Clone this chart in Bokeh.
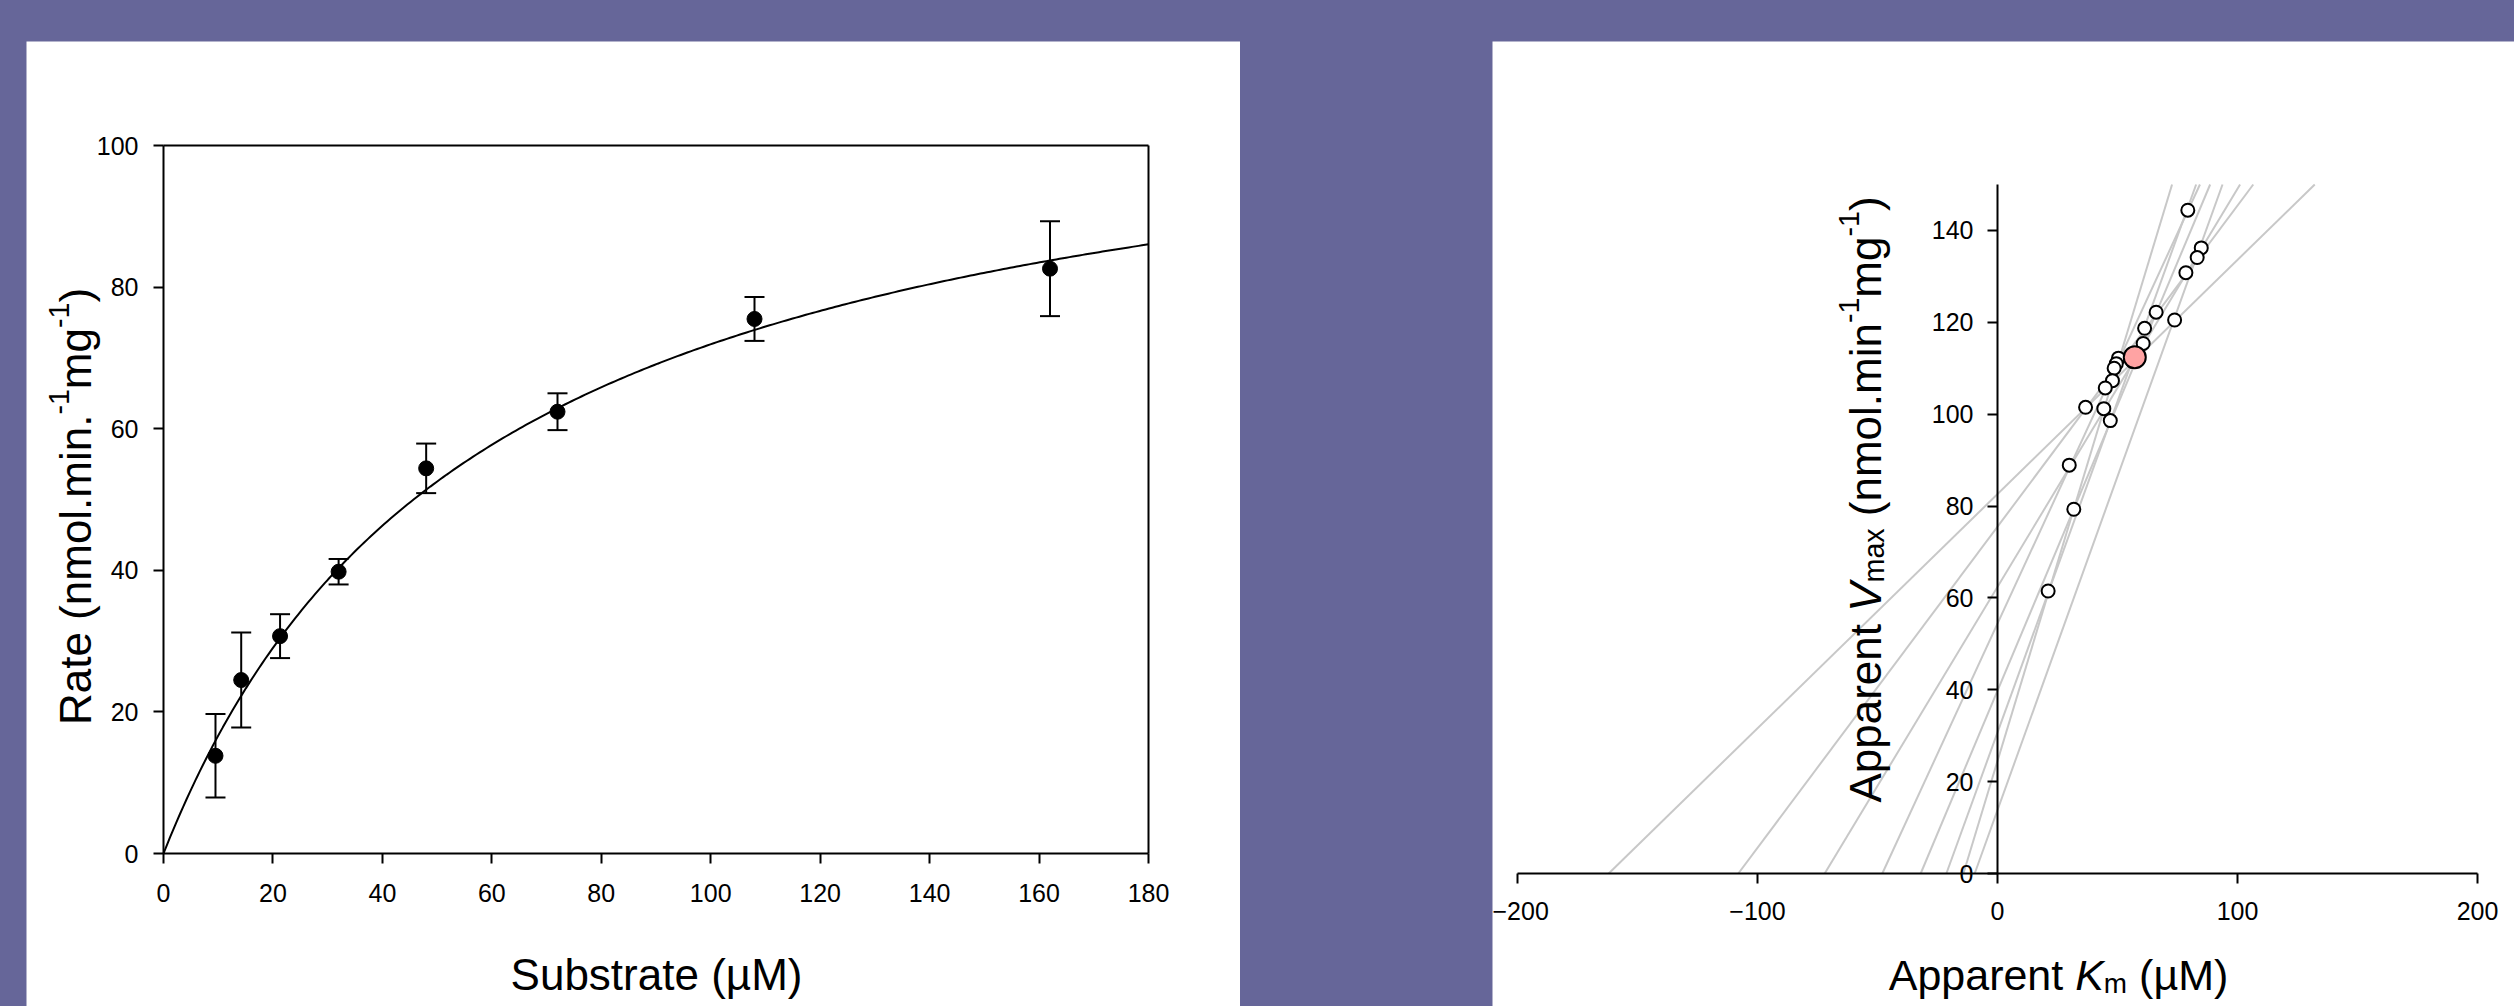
import numpy as np
from bokeh.plotting import figure
from bokeh.models import Label, Whisker, TeeHead, ColumnDataSource, FixedTicker, LinearAxis
from bokeh.layouts import row
from bokeh.embed import file_html
from bokeh.resources import INLINE

# ---------------- data ----------------
substrate_uM = [9.5, 14.2, 21.3, 32.0, 48.0, 72.0, 108.0, 162.0]
rate = [13.8, 24.5, 30.7, 39.8, 54.4, 62.4, 75.5, 82.6]
rate_err = [5.9, 6.7, 3.1, 1.8, 3.5, 2.6, 3.1, 6.7]
fit_vmax = 114.0
fit_km = 58.5
left_xlim = (0, 180)
left_ylim = (0, 100)
left_xticks = [0, 20, 40, 60, 80, 100, 120, 140, 160, 180]
left_yticks = [0, 20, 40, 60, 80, 100]

# pairwise intersections of the direct linear plot
pair_km = [79.3, 84.9, 83.2, 78.5, 66.1, 73.8, 61.3, 60.7, 56.3, 50.4,
           49.5, 48.6, 47.9, 44.9, 36.7, 44.3, 47.0, 29.9, 31.8, 21.1]
pair_vmax = [144.4, 136.2, 134.1, 130.8, 122.2, 120.5, 118.7, 115.4, 111.5, 112.2,
             111.0, 110.0, 107.3, 105.7, 101.5, 101.2, 98.6, 88.9, 79.3, 61.5]
median_km = [57.2]
median_vmax = [112.4]
right_xlim = (-200, 200)
right_ylim = (0, 150)
right_xticks = [-200, -100, 0, 100, 200]
right_yticks = [0, 20, 40, 60, 80, 100, 120, 140]

# ---------------- styling / geometry (pixels) ----------------
BG = "#666699"
FONT = "Liberation Sans"
BASE_FIX = 13             # renderer places alphabetic baseline this much lower
PANEL_TOP, PANEL_H = 41, 965
L_PANEL = (26, 1214)      # left, width
R_PANEL = (1492, 1022)
L_FRAME = (163, 1148, 145, 853)    # x0px, x1px, ytop px, ybottom px
R_FRAME = (1517, 2477, 184, 873)

W = {' ': 278, '(': 333, ')': 333, '.': 278, '-': 333, '1': 556, 'A': 667, 'K': 667,
     'M': 833, 'R': 722, 'S': 667, 'V': 667, 'a': 556, 'b': 556, 'e': 556, 'g': 556,
     'i': 222, 'l': 222, 'm': 833, 'n': 556, 'o': 556, 'p': 556, 'r': 333, 's': 500,
     't': 278, 'u': 556, 'x': 500, '\u00b5': 576}


def text_w(s, size):
    return sum(W.get(c, 556) for c in s) / 1000.0 * size


def make_conv(panel, frame, xlim, ylim):
    fx0, fx1, fyt, fyb = frame
    sx = (fx1 - fx0) / (xlim[1] - xlim[0])
    sy = (fyb - fyt) / (ylim[1] - ylim[0])

    def conv(px, py):
        return xlim[0] + (px - fx0) / sx, ylim[0] + (fyb - py) / sy

    xr = (conv(panel[0], 0)[0], conv(panel[0] + panel[1], 0)[0])
    yr = (conv(0, PANEL_TOP + PANEL_H)[1], conv(0, PANEL_TOP)[1])
    return conv, xr, yr


def place_runs(p, conv, runs, center, base, vertical, main=44):
    base = base - BASE_FIX
    total = sum(text_w(t, main * rs) for t, rs, sh, st in runs)
    pos = center + total / 2 if vertical else center - total / 2
    for t, rs, sh, st in runs:
        size = main * rs
        lead = len(t) - len(t.lstrip(' '))
        adv = text_w(' ' * lead, size)
        pos = pos - adv if vertical else pos + adv
        core = t.strip(' ')
        if vertical:
            px, py, ang = base - sh * main, pos, np.pi / 2
        else:
            px, py, ang = pos, base - sh * main, 0
        x, y = conv(px, py)
        p.add_layout(Label(x=x, y=y, text=core, angle=ang, text_font=FONT,
                           text_font_size=f"{size:.1f}px", text_font_style=st,
                           text_color="black", text_align="left",
                           text_baseline="alphabetic"))
        rest = text_w(t[lead:], size)
        pos = pos - rest if vertical else pos + rest


def style_axis(ax, width, ticks):
    ax.ticker = FixedTicker(ticks=ticks)
    ax.axis_line_width = width
    ax.axis_line_color = "black"
    ax.major_tick_line_width = width
    ax.major_tick_line_color = "black"
    ax.major_tick_out = 10
    ax.major_tick_in = 0
    ax.minor_tick_line_color = None
    ax.major_label_text_font = FONT
    ax.major_label_text_font_size = "25px"
    ax.major_label_text_color = "black"


def new_fig(panel, xr, yr, left_margin):
    p = figure(width=panel[1], height=PANEL_H, x_range=xr, y_range=yr,
               output_backend="svg", toolbar_location=None,
               min_border_left=0, min_border_right=0, min_border_top=0,
               min_border_bottom=0, background_fill_color="white",
               border_fill_color="white", outline_line_color=None)
    p.margin = (PANEL_TOP, 0, 0, left_margin)
    p.grid.visible = False
    return p


# ---------------- left: Michaelis-Menten plot ----------------
conv1, xr1, yr1 = make_conv(L_PANEL, L_FRAME, left_xlim, left_ylim)
p1 = new_fig(L_PANEL, xr1, yr1, L_PANEL[0])
style_axis(p1.xaxis[0], 2, left_xticks)
style_axis(p1.yaxis[0], 2, left_yticks)
p1.xaxis.fixed_location = left_ylim[0]
p1.xaxis.bounds = left_xlim
p1.yaxis.fixed_location = left_xlim[0]
p1.yaxis.bounds = left_ylim
p1.xaxis.major_label_standoff = 20
p1.yaxis.major_label_standoff = 15
# box: top and right edges
top_ax = LinearAxis(fixed_location=left_ylim[1], bounds=left_xlim)
style_axis(top_ax, 2, [])
top_ax.major_label_text_font_size = "0px"
p1.add_layout(top_ax, "above")
right_ax = LinearAxis(fixed_location=left_xlim[1], bounds=left_ylim)
style_axis(right_ax, 2, [])
right_ax.major_label_text_font_size = "0px"
p1.add_layout(right_ax, "right")

s_curve = np.linspace(left_xlim[0], left_xlim[1], 300)
p1.line(s_curve, fit_vmax * s_curve / (fit_km + s_curve), line_color="black", line_width=2)

src = ColumnDataSource(dict(
    x=substrate_uM, y=rate,
    lower=[r - e for r, e in zip(rate, rate_err)],
    upper=[r + e for r, e in zip(rate, rate_err)]))
p1.add_layout(Whisker(source=src, base="x", lower="lower", upper="upper",
                      dimension="height", line_color="black", line_width=2,
                      lower_head=TeeHead(size=20, line_width=2, line_color="black"),
                      upper_head=TeeHead(size=20, line_width=2, line_color="black")))
p1.scatter("x", "y", source=src, size=15, fill_color="black", line_color="black")

place_runs(p1, conv1, [("Substrate (\u00b5M)", 1, 0, "normal")], 656, 987, False)
place_runs(p1, conv1, [("Rate (nmol.min.", 1, 0, "normal"), ("-1", 0.65, 0.38, "normal"),
                       ("mg", 1, 0, "normal"), ("-1", 0.65, 0.38, "normal"),
                       (")", 1, 0, "normal")], 506, 88, True)

# ---------------- right: direct linear plot ----------------
conv2, xr2, yr2 = make_conv(R_PANEL, R_FRAME, right_xlim, right_ylim)
p2 = new_fig(R_PANEL, xr2, yr2, R_PANEL[0] - (L_PANEL[0] + L_PANEL[1]))
style_axis(p2.xaxis[0], 2, right_xticks)
style_axis(p2.yaxis[0], 2, right_yticks)
p2.xaxis.fixed_location = right_ylim[0]
p2.xaxis.bounds = right_xlim
p2.yaxis.fixed_location = 0
p2.yaxis.bounds = right_ylim
p2.xaxis.major_label_standoff = 18
p2.yaxis.major_label_standoff = 14

y_top = right_ylim[1]
p2.segment(x0=[-s for s in substrate_uM], y0=[0] * len(substrate_uM),
           x1=[s * (y_top / v - 1) for s, v in zip(substrate_uM, rate)],
           y1=[y_top] * len(substrate_uM), line_color="#C8C8C8", line_width=2)
p2.scatter(pair_km, pair_vmax, size=13, fill_color="white", line_color="black",
           line_width=2)
p2.scatter(median_km, median_vmax, size=22, fill_color="#FFA3A3", line_color="black",
           line_width=2)

place_runs(p2, conv2, [("Apparent ", 1, 0, "normal"), ("K", 1, 0, "italic"),
                       ("m", 0.65, -0.2, "normal"), (" (\u00b5M)", 1, 0, "normal")],
           2058, 987, False, main=43)
place_runs(p2, conv2, [("Apparent ", 1, 0, "normal"), ("V", 1, 0, "italic"),
                       ("max", 0.65, -0.2, "normal"), (" (nmol.min", 1, 0, "normal"),
                       ("-1", 0.65, 0.38, "normal"), ("mg", 1, 0, "normal"),
                       ("-1", 0.65, 0.38, "normal"), (")", 1, 0, "normal")],
           499, 1878, True)

layout = row(p1, p2, width=2514, height=1006, margin=(0, 0, 0, 0),
             styles={"background-color": BG}, spacing=0)

open("out.html", "w").write(file_html(layout, INLINE))
